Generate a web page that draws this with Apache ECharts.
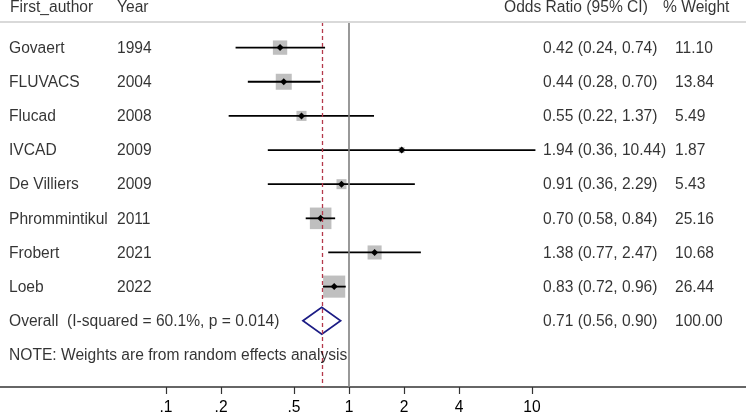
<!DOCTYPE html>
<html>
<head>
<meta charset="utf-8">
<script src="https://cdn.jsdelivr.net/npm/echarts@6/dist/echarts.min.js"></script>
<style>
html,body{margin:0;padding:0;background:#fff;}
#chart{width:746px;height:414px;}
</style>
</head>
<body>
<div id="chart"></div>
<script>
// ---- data ----
const authors = ['Govaert','FLUVACS','Flucad','IVCAD','De Villiers','Phrommintikul','Frobert','Loeb'];
const years = ['1994','2004','2008','2009','2009','2011','2021','2022'];
const orEst = [0.42,0.44,0.55,1.94,0.91,0.70,1.38,0.83];
const orLow = [0.24,0.28,0.22,0.36,0.36,0.58,0.77,0.72];
const orHigh = [0.74,0.70,1.37,10.44,2.29,0.84,2.47,0.96];
const weights = ['11.10','13.84','5.49','1.87','5.43','25.16','10.68','26.44'];
const overall = {est:0.71, low:0.56, high:0.90, weight:'100.00'};
const overallLabel = 'Overall  (I-squared = 60.1%, p = 0.014)';
const noteLabel = 'NOTE: Weights are from random effects analysis';
const headers = ['First_author','Year','Odds Ratio (95% CI)','% Weight'];
const tickValues = [0.1,0.2,0.5,1,2,4,10];
const tickLabels = ['.1','.2','.5','1','2','4','10'];

// ---- layout ----
const FONT = 'Liberation Sans, Arial, sans-serif';
const FS = 15.6;
const W = 746;
const HEADER_ROW = -0.2;
const OVERALL_ROW = authors.length + 1;
const NOTE_ROW = authors.length + 2;
const colX = {name:9, year:117, or:543, weight:675};
const headX = [10, 117, 504, 663];

function fmt2(v){return v.toFixed(2);}
const orText = orEst.map((e,i)=>fmt2(e)+' ('+fmt2(orLow[i])+', '+fmt2(orHigh[i])+')');
const overallText = fmt2(overall.est)+' ('+fmt2(overall.low)+', '+fmt2(overall.high)+')';

function textSeries(items){
  return {
    type:'scatter', xAxisIndex:1, yAxisIndex:0, symbolSize:0, clip:false, silent:true, z:5,
    data: items,
    label:{show:true, position:'right', distance:0, offset:[0,1], color:'#000', fontFamily:FONT, fontSize:FS,
      formatter:p=>p.value[2]},
    emphasis:{disabled:true}
  };
}

const nameItems = authors.map((a,i)=>[colX.name, i+1, a]);
nameItems.push([colX.name, OVERALL_ROW, overallLabel]);
nameItems.push([colX.name, NOTE_ROW, noteLabel]);
const yearItems = years.map((y,i)=>[colX.year, i+1, y]);
const orItems = orText.map((t,i)=>[colX.or, i+1, t]);
orItems.push([colX.or, OVERALL_ROW, overallText]);
const wItems = weights.map((w,i)=>[colX.weight, i+1, w]);
wItems.push([colX.weight, OVERALL_ROW, overall.weight]);
const headItems = headers.map((h,i)=>[headX[i], HEADER_ROW, h]);

const studyData = authors.map((a,i)=>[i+1, orEst[i], orLow[i], orHigh[i], parseFloat(weights[i])]);

const chart = echarts.init(document.getElementById('chart'), null, {renderer:'canvas'});
chart.setOption({
  animation:false,
  backgroundColor:'#fff',
  grid:{left:0, right:0, top:22, bottom:27, containLabel:false, outerBoundsMode:'none'},
  xAxis:[{
    type:'log', logBase:10,
    min:Math.pow(10,-1-166/183), max:Math.pow(10,1+(W-532)/183),
    axisLine:{show:true, lineStyle:{color:'#333', width:1.5}},
    axisTick:{show:true, customValues:tickValues, length:7, lineStyle:{color:'#333', width:1.2}},
    axisLabel:{show:true, customValues:tickValues, color:'#000', fontFamily:FONT, fontSize:FS, margin:13,
      formatter:v=>{const i=tickValues.findIndex(t=>Math.abs(t-v)<1e-9);return i>=0?tickLabels[i]:'';}},
    splitLine:{show:false}
  },{
    type:'value', min:0, max:W, show:false
  }],
  yAxis:[{type:'value', inverse:true, min:0.25, max:10.94, show:false}],
  series:[
    {
      type:'scatter', xAxisIndex:0, data:[], z:1, silent:true,
      markLine:{
        silent:true, symbol:'none', animation:false, label:{show:false},
        data:[
          {xAxis:1, lineStyle:{color:'#7f7f7f', width:1.6, type:'solid'}},
          {xAxis:overall.est, lineStyle:{color:'#b5394b', width:1.3, type:[4,3]}},
          {yAxis:0.25, lineStyle:{color:'#d9d9d9', width:2, type:'solid'}}
        ]
      }
    },
    {
      type:'custom', xAxisIndex:0, yAxisIndex:0, z:3, clip:false, silent:true,
      data: studyData,
      renderItem:function(params, api){
        const row = api.value(0);
        const c = api.coord([api.value(1), row]);
        const l = api.coord([api.value(2), row]);
        const h = api.coord([api.value(3), row]);
        const s = 4.3*Math.sqrt(api.value(4));
        const d = 3.5;
        return {type:'group', children:[
          {type:'rect', shape:{x:c[0]-s/2, y:c[1]-s/2, width:s, height:s}, style:{fill:'#bfbfbf'}},
          {type:'line', shape:{x1:l[0], y1:l[1], x2:h[0], y2:h[1]}, style:{stroke:'#000', lineWidth:1.8}},
          {type:'polygon', shape:{points:[[c[0]-d,c[1]],[c[0],c[1]-d],[c[0]+d,c[1]],[c[0],c[1]+d]]}, style:{fill:'#000'}}
        ]};
      }
    },
    {
      type:'custom', xAxisIndex:0, yAxisIndex:0, z:3, clip:false, silent:true,
      data:[[OVERALL_ROW, overall.est, overall.low, overall.high]],
      renderItem:function(params, api){
        const row = api.value(0);
        const c = api.coord([api.value(1), row]);
        const l = api.coord([api.value(2), row]);
        const h = api.coord([api.value(3), row]);
        const hh = 13.5;
        return {type:'polygon', shape:{points:[[l[0],l[1]],[c[0],c[1]-hh],[h[0],h[1]],[c[0],c[1]+hh]]},
          style:{fill:'none', stroke:'#1c1c85', lineWidth:1.7}};
      }
    },
    textSeries(headItems),
    textSeries(nameItems),
    textSeries(yearItems),
    textSeries(orItems),
    textSeries(wItems)
  ]
});
</script>
</body>
</html>
